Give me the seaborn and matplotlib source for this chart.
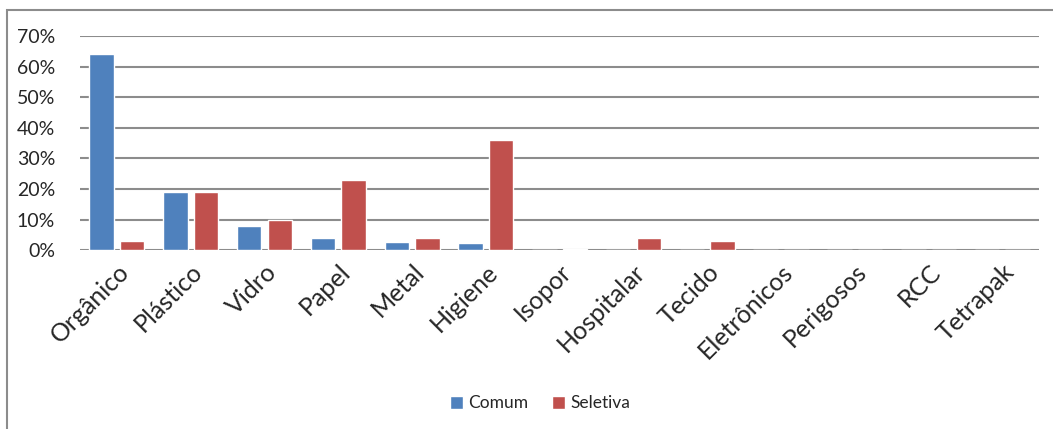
import pandas as pd
import matplotlib.pyplot as plt
import seaborn as sns
from matplotlib.patches import Rectangle
from matplotlib.ticker import PercentFormatter

categorias = ["Orgânico", "Plástico", "Vidro", "Papel", "Metal", "Higiene", "Isopor",
              "Hospitalar", "Tecido", "Eletrônicos", "Perigosos", "RCC", "Tetrapak"]
comum = [64, 19, 8, 4, 2.7, 2.3, 0, 0, 0, 0, 0, 0, 0]
seletiva = [3, 19, 10, 23, 4, 36, 0.3, 4, 3, 0, 0, 0, 0]
series = ["Comum", "Seletiva"]
cores = ["#4F81BD", "#C0504D"]

df = pd.DataFrame({
    "categoria": categorias * 2,
    "valor": comum + seletiva,
    "serie": [series[0]] * len(categorias) + [series[1]] * len(categorias),
})

sns.set_style("white")
plt.rcParams["font.family"] = ["Lato", "DejaVu Sans"]

fig = plt.figure(figsize=(10.53, 4.29), dpi=100)
ax = fig.add_axes([0.076, 0.417, 0.911, 0.499])

sns.barplot(data=df, x="categoria", y="valor", hue="serie", palette=cores,
            width=0.83, gap=0.2, ax=ax, legend=True, saturation=1)

ax.set_ylim(0, 70)
ax.set_xlim(-0.5, len(categorias) - 0.5)
ax.set_yticks(range(0, 71, 10))
ax.yaxis.set_major_formatter(PercentFormatter(decimals=0))
ax.grid(axis="y", color="#8c8c8c", linewidth=1.5)
ax.set_axisbelow(True)
for s in ax.spines.values():
    s.set_visible(False)
ax.set_xlabel("")
ax.set_ylabel("")
ax.tick_params(axis="y", labelsize=14, length=0, pad=18)
ax.tick_params(axis="x", labelsize=18, length=0, pad=7)
plt.setp(ax.get_xticklabels(), rotation=45, ha="right", rotation_mode="anchor")

ax.legend(loc="center", bbox_to_anchor=(0.513, 0.06), bbox_transform=fig.transFigure,
          ncol=2, frameon=False, fontsize=12.5, handlelength=0.75, handleheight=0.75,
          handletextpad=0.3, columnspacing=1.4)

fig.patches.append(Rectangle((7 / 1053, -0.1), 1.2, 1.1 - 10 / 429, transform=fig.transFigure,
                             fill=False, edgecolor="#8c8c8c", linewidth=1.5))

fig.savefig("out.png", dpi=100)
